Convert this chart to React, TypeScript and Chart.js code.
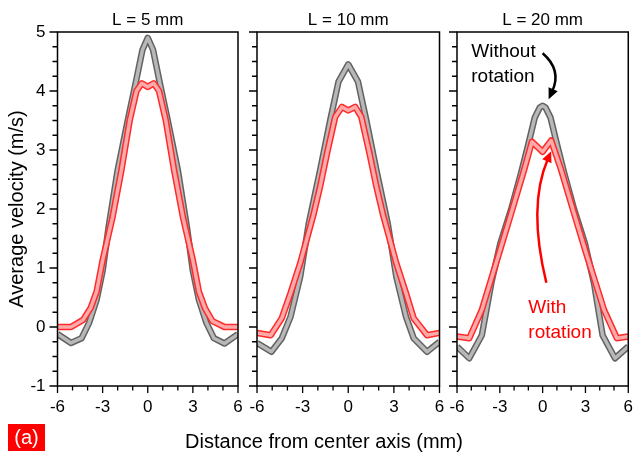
import { useEffect, useRef } from "react";
import { Chart, registerables } from "chart.js";

Chart.register(...registerables);

const FONT = "'Liberation Sans', Arial, Helvetica, sans-serif";

const panelTitles = ["L = 5 mm", "L = 10 mm", "L = 20 mm"];
const xAxisTitle = "Distance from center axis (mm)";
const yAxisTitle = "Average velocity (m/s)";
const panelTag = "(a)";
const annWithout = ["Without", "rotation"];
const annWith = ["With", "rotation"];

const xMin = -6;
const xMax = 6;
const yMin = -1;
const yMax = 5;

// L = 5 mm
const x5Without = [-6, -5.1, -4.4, -3.9, -3.4, -3.0, -2.6, -2.0, -1.33, -0.75, -0.35, 0, 0.35, 0.75, 1.33, 2.0, 2.6, 3.0, 3.4, 3.9, 4.4, 5.1, 6];
const v5Without = [-0.12, -0.27, -0.19, 0.07, 0.46, 0.95, 1.7, 2.66, 3.5, 4.2, 4.7, 4.9, 4.7, 4.2, 3.5, 2.66, 1.7, 0.95, 0.46, 0.07, -0.19, -0.28, -0.12];
const x5With = [-6, -5.1, -4.3, -3.8, -3.4, -3.0, -2.35, -1.75, -1.2, -0.75, -0.4, 0, 0.4, 0.75, 1.2, 1.75, 2.35, 3.0, 3.4, 3.8, 4.3, 5.1, 6];
const v5With = [0.0, 0.0, 0.12, 0.32, 0.6, 1.13, 1.85, 2.66, 3.5, 4.0, 4.13, 4.07, 4.13, 4.0, 3.5, 2.66, 1.85, 1.13, 0.6, 0.32, 0.1, 0.0, 0.0];

// L = 10 mm
const x10Without = [-6, -5.05, -4.37, -3.8, -3.16, -2.6, -1.85, -1.19, -0.64, 0, 0.64, 1.19, 1.85, 2.6, 3.16, 3.8, 4.3, 5.18, 6];
const v10Without = [-0.27, -0.42, -0.19, 0.17, 0.85, 1.75, 2.66, 3.5, 4.16, 4.45, 4.16, 3.5, 2.66, 1.75, 0.85, 0.17, -0.19, -0.42, -0.25];
const x10With = [-6, -5.1, -4.37, -3.8, -3.16, -2.29, -1.85, -1.4, -0.86, -0.42, 0, 0.46, 0.86, 1.4, 1.85, 2.29, 3.16, 3.8, 4.3, 5.18, 6];
const v10With = [-0.1, -0.14, 0.15, 0.57, 1.08, 1.9, 2.38, 2.94, 3.56, 3.73, 3.67, 3.73, 3.56, 2.94, 2.38, 1.9, 1.08, 0.57, 0.15, -0.14, -0.1];

// L = 20 mm
const x20Without = [-6, -5.14, -4.26, -3.6, -2.96, -2.2, -1.5, -1.0, -0.55, -0.2, 0, 0.2, 0.55, 1.0, 1.5, 2.2, 2.96, 3.6, 4.2, 5.07, 6];
const v20Without = [-0.33, -0.53, -0.14, 0.74, 1.42, 2.0, 2.62, 3.1, 3.55, 3.72, 3.75, 3.72, 3.55, 3.1, 2.62, 2.0, 1.42, 0.74, -0.14, -0.53, -0.33];
const x20With = [-6, -5.14, -4.26, -3.05, -2.2, -1.3, -0.75, 0, 0.6, 1.3, 2.2, 3.05, 4.3, 5.2, 6];
const v20With = [-0.16, -0.19, 0.29, 1.25, 1.93, 2.66, 3.14, 2.97, 3.16, 2.66, 1.93, 1.25, 0.29, -0.19, -0.16];

const panelX = [
  [x5Without, v5Without, x5With, v5With],
  [x10Without, v10Without, x10With, v10With],
  [x20Without, v20Without, x20With, v20With],
];

// annotation anchors (data coordinates of the L = 20 mm panel)
const annWithoutPos = [-5.0, 4.58, 4.15];
const annWithPos = [-1.0, 0.24, -0.19];
const arrowWithout = [[0.0, 4.64], [1.35, 4.36], [0.42, 3.86]];
const arrowWith = [[0.26, 0.75], [-1.05, 2.05], [0.6, 2.98]];

// layout (pixels)
const W = 644;
const H = 462;
const AREA_TOP = 32;
const AREA_BOTTOM = 386;
const panelLefts = [57.5, 257, 457];
const panelRights = [238, 439.5, 639.5];
const X_AXIS_H = 40;

const BLACK_OUTER = "rgba(70,70,70,0.85)";
const BLACK_INNER = "#b8b8b8";
const RED_OUTER = "#ff2a2a";
const RED_INNER = "#ffaaaa";

function isInt(v: number) {
  return Math.abs(v - Math.round(v)) < 1e-6;
}

function lineSets(xs: number[], vs: number[], outer: string, inner: string, baseOrder: number) {
  const mk = () => xs.map((x, k) => ({ x, y: vs[k] }));
  return [
    { data: mk(), borderColor: inner, borderWidth: 3.5, pointRadius: 0, order: baseOrder, tension: 0, borderJoinStyle: "round" as const, borderCapStyle: "butt" as const },
    { data: mk(), borderColor: outer, borderWidth: 6.5, pointRadius: 0, order: baseOrder + 1, tension: 0, borderJoinStyle: "round" as const, borderCapStyle: "butt" as const },
  ];
}

function drawArrow(ctx: CanvasRenderingContext2D, pts: number[][], color: string) {
  const [s, c, e] = pts;
  ctx.save();
  ctx.strokeStyle = color;
  ctx.fillStyle = color;
  ctx.lineWidth = 2.5;
  const dx = e[0] - c[0];
  const dy = e[1] - c[1];
  const len = Math.hypot(dx, dy);
  const ux = dx / len;
  const uy = dy / len;
  const headL = 11;
  const headW = 5;
  const bx = e[0] - ux * headL;
  const by = e[1] - uy * headL;
  ctx.beginPath();
  ctx.moveTo(s[0], s[1]);
  ctx.quadraticCurveTo(c[0], c[1], bx + ux * 2, by + uy * 2);
  ctx.stroke();
  ctx.beginPath();
  ctx.moveTo(e[0], e[1]);
  ctx.lineTo(bx - uy * headW, by + ux * headW);
  ctx.lineTo(bx + uy * headW, by - ux * headW);
  ctx.closePath();
  ctx.fill();
  ctx.restore();
}

const framePlugin = {
  id: "frame",
  afterDraw(chart: any) {
    const { ctx, chartArea: a, scales } = chart;
    const xs = scales.x;
    const ys = scales.y;
    const idx = chart.options.plugins.frame.panel;
    ctx.save();
    ctx.strokeStyle = "#000";
    ctx.lineWidth = 1.5;
    ctx.strokeRect(a.left, a.top, a.right - a.left, a.bottom - a.top);
    ctx.lineWidth = 1.3;
    ctx.beginPath();
    ys.ticks.forEach((t: any) => {
      const py = ys.getPixelForValue(t.value);
      const len = isInt(t.value) ? 8 : 5;
      ctx.moveTo(a.left - len, py);
      ctx.lineTo(a.left, py);
    });
    xs.ticks.forEach((t: any) => {
      const px = xs.getPixelForValue(t.value);
      const len = isInt(t.value / 3) ? 7 : 4.5;
      ctx.moveTo(px, a.bottom);
      ctx.lineTo(px, a.bottom + len);
    });
    ctx.stroke();
    ctx.fillStyle = "#000";
    ctx.font = `17px ${FONT}`;
    ctx.textAlign = "center";
    ctx.textBaseline = "alphabetic";
    ctx.fillText(panelTitles[idx], (a.left + a.right) / 2, 25);

    if (idx === 0) {
      ctx.save();
      ctx.translate(17, 209);
      ctx.rotate(-Math.PI / 2);
      ctx.font = `20px ${FONT}`;
      ctx.textAlign = "center";
      ctx.textBaseline = "middle";
      ctx.fillText(yAxisTitle, 0, 0);
      ctx.restore();
      ctx.font = `20px ${FONT}`;
      ctx.textAlign = "center";
      ctx.textBaseline = "alphabetic";
      ctx.fillText(xAxisTitle, 324, 448);
      ctx.fillStyle = "#ff0000";
      ctx.fillRect(8, 424, 37, 27);
      ctx.fillStyle = "#fff";
      ctx.textBaseline = "middle";
      ctx.fillText(panelTag, 26.5, 438);
    }
    if (idx === 2) {
      const px = (v: number) => xs.getPixelForValue(v);
      const py = (v: number) => ys.getPixelForValue(v);
      ctx.font = `19px ${FONT}`;
      ctx.textAlign = "left";
      ctx.textBaseline = "alphabetic";
      ctx.fillStyle = "#000";
      ctx.fillText(annWithout[0], px(annWithoutPos[0]), py(annWithoutPos[1]));
      ctx.fillText(annWithout[1], px(annWithoutPos[0]), py(annWithoutPos[2]));
      ctx.fillStyle = "#ff0000";
      ctx.fillText(annWith[0], px(annWithPos[0]), py(annWithPos[1]));
      ctx.fillText(annWith[1], px(annWithPos[0]), py(annWithPos[2]));
      drawArrow(ctx, arrowWithout.map((p) => [px(p[0]), py(p[1])]), "#000");
      drawArrow(ctx, arrowWith.map((p) => [px(p[0]), py(p[1])]), "#ff0000");
    }
    ctx.restore();
  },
};

function makeConfig(i: number): any {
  const [xw, vw, xr, vr] = panelX[i];
  const left = panelLefts[i];
  const right = panelRights[i];
  return {
    type: "line",
    data: {
      datasets: [
        ...lineSets(xr, vr, RED_OUTER, RED_INNER, 0),
        ...lineSets(xw, vw, BLACK_OUTER, BLACK_INNER, 2),
      ],
    },
    plugins: [framePlugin],
    options: {
      animation: false,
      responsive: false,
      events: [],
      layout: {
        padding: { left: i === 0 ? 0 : left, right: W - right, top: AREA_TOP, bottom: H - AREA_BOTTOM - X_AXIS_H },
      },
      plugins: { legend: { display: false }, tooltip: { enabled: false }, frame: { panel: i } },
      scales: {
        x: {
          type: "linear",
          min: xMin,
          max: xMax,
          grid: { display: false, drawTicks: false },
          border: { display: false },
          ticks: {
            stepSize: 1,
            autoSkip: false,
            maxRotation: 0,
            padding: 11,
            color: "#000",
            font: { family: FONT, size: 17 },
            callback: (v: number) => (isInt(v / 3) ? String(Math.round(v)) : ""),
          },
          afterFit: (s: any) => {
            s.height = X_AXIS_H;
          },
        },
        y: {
          type: "linear",
          min: yMin,
          max: yMax,
          grid: { display: false, drawTicks: false },
          border: { display: false },
          ticks: {
            display: i === 0,
            stepSize: 0.25,
            maxTicksLimit: 100,
            autoSkip: false,
            padding: 12,
            color: "#000",
            font: { family: FONT, size: 17 },
            callback: (v: number) => (isInt(v) ? String(Math.round(v)) : ""),
          },
          afterFit: (s: any) => {
            s.width = i === 0 ? left : 0;
          },
        },
      },
    },
  };
}

export default function App() {
  const r0 = useRef<HTMLCanvasElement>(null);
  const r1 = useRef<HTMLCanvasElement>(null);
  const r2 = useRef<HTMLCanvasElement>(null);
  useEffect(() => {
    const refs = [r0, r1, r2];
    const charts = refs.map((r, i) => new Chart(r.current as HTMLCanvasElement, makeConfig(i)));
    return () => charts.forEach((c) => c.destroy());
  }, []);
  const cs: any = { position: "absolute", left: 0, top: 0, width: W, height: H };
  return (
    <div style={{ position: "fixed", left: 0, top: 0, width: W, height: H, background: "#fff" }}>
      <canvas ref={r0} width={W} height={H} style={cs} />
      <canvas ref={r1} width={W} height={H} style={cs} />
      <canvas ref={r2} width={W} height={H} style={cs} />
    </div>
  );
}
